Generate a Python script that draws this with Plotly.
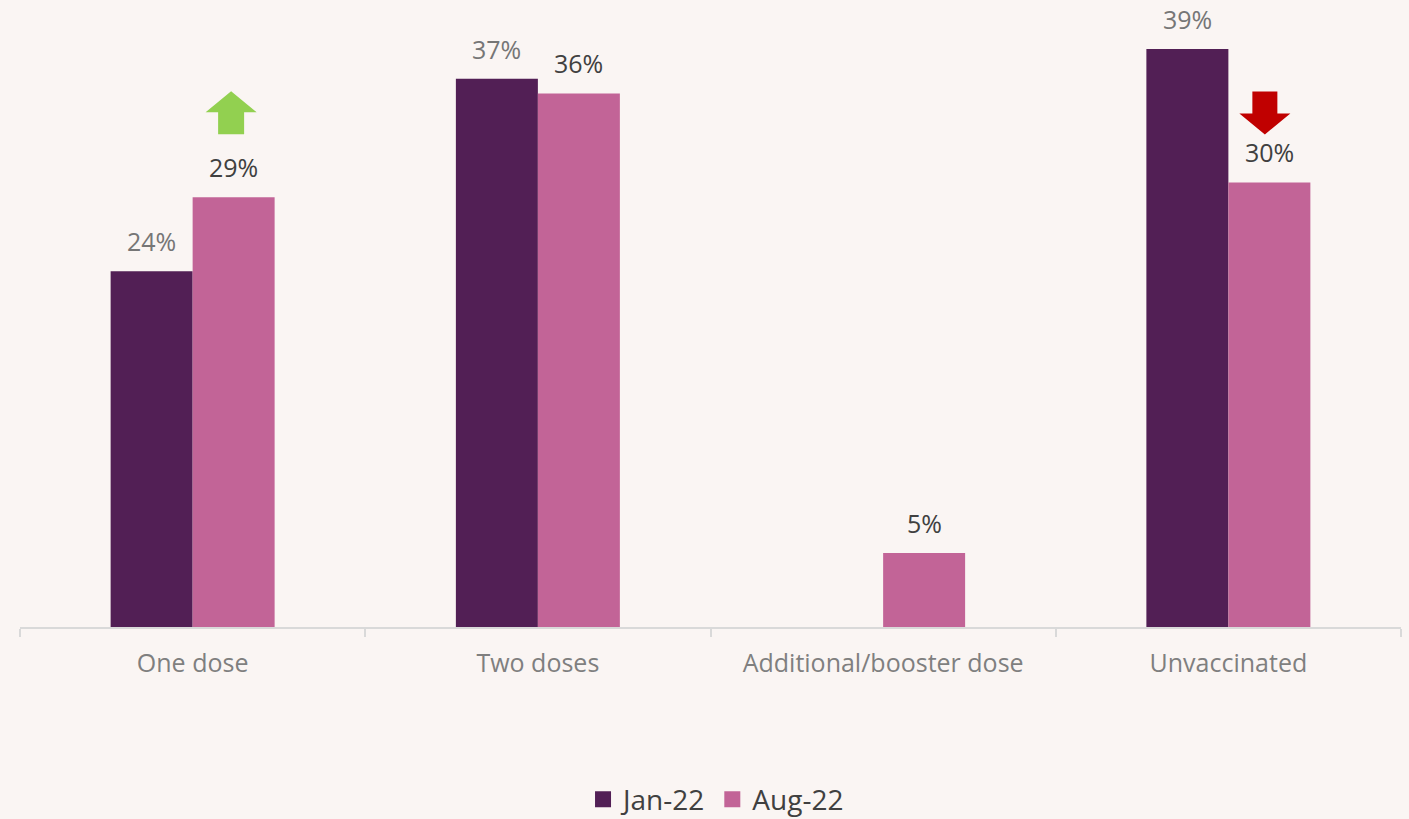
import plotly.graph_objects as go

categories = ["One dose", "Two doses", "Additional/booster dose", "Unvaccinated"]
jan_values = [24, 37, None, 39]
aug_values = [29, 36, 5, 30]
series_names = ["Jan-22", "Aug-22"]

JAN_COLOR = "#521F55"
AUG_COLOR = "#C26497"
BG = "#FAF5F3"
FONT = "Open Sans"
BARGAP = 0.525
HALF = (1 - BARGAP) / 4  # offset of each bar centre from category centre

fig = go.Figure()
fig.add_trace(go.Bar(x=categories, y=jan_values, name=series_names[0],
                     marker=dict(color=JAN_COLOR, line=dict(width=0)), showlegend=False))
fig.add_trace(go.Bar(x=categories, y=aug_values, name=series_names[1],
                     marker=dict(color=AUG_COLOR, line=dict(width=0)), showlegend=False))

# legend proxies (bigger square swatches)
for name, col in zip(series_names, [JAN_COLOR, AUG_COLOR]):
    fig.add_trace(go.Scatter(x=[None], y=[None], mode="markers", name=name,
                             marker=dict(symbol="square", size=16, color=col)))

# value labels
for vals, sign, col in [(jan_values, -1, "#767676"), (aug_values, 1, "#404040")]:
    for i, v in enumerate(vals):
        if v is None:
            continue
        fig.add_annotation(x=i + sign * HALF, y=v, xref="x", yref="y",
                           text=f"{v}%", showarrow=False, yanchor="middle",
                           yshift=30, font=dict(family=FONT, size=25, color=col))

# change arrows (pixel geometry anchored to the Aug bar tops)
def up_arrow(dx):
    return (f"M{dx-13},63 L{dx-13},85 L{dx-25.5},85 L{dx},106 "
            f"L{dx+25.5},85 L{dx+13},85 L{dx+13},63 Z")

def down_arrow(dx):
    return (f"M{dx-12.5},91 L{dx-12.5},69 L{dx-25.5},69 L{dx},48 "
            f"L{dx+25.5},69 L{dx+12.5},69 L{dx+12.5},91 Z")

fig.add_shape(type="path", xref="x", yref="y", xsizemode="pixel", ysizemode="pixel",
              xanchor=0 + HALF, yanchor=aug_values[0], path=up_arrow(-2.5),
              fillcolor="#92D050", line=dict(width=0))
fig.add_shape(type="path", xref="x", yref="y", xsizemode="pixel", ysizemode="pixel",
              xanchor=3 + HALF, yanchor=aug_values[3], path=down_arrow(-4.5),
              fillcolor="#C00000", line=dict(width=0))

fig.update_layout(
    width=1409, height=819,
    paper_bgcolor=BG, plot_bgcolor=BG,
    margin=dict(l=20, r=8, t=0, b=192, autoexpand=False),
    barmode="group", bargap=BARGAP, bargroupgap=0,
    font=dict(family=FONT, size=25, color="#404040"),
    showlegend=True,
    legend=dict(orientation="h", x=0.504, xanchor="center", y=-0.275, yanchor="middle",
                font=dict(family=FONT, size=28, color="#404040"),
                bgcolor="rgba(0,0,0,0)", itemwidth=30, tracegroupgap=0),
    xaxis=dict(type="category", showline=True, linecolor="#D9D9D9", linewidth=1.5,
               ticks="outside", tickson="boundaries", ticklen=8, tickcolor="#D9D9D9",
               tickwidth=1.5, tickfont=dict(family=FONT, size=25, color="#7F7F7F"),
               ticklabelstandoff=13, showgrid=False, zeroline=False, fixedrange=True,
               automargin=False),
    yaxis=dict(range=[0, 627 / (578 / 39)], visible=False, showgrid=False,
               zeroline=False, fixedrange=True, automargin=False),
)

fig.write_html("out.html")
